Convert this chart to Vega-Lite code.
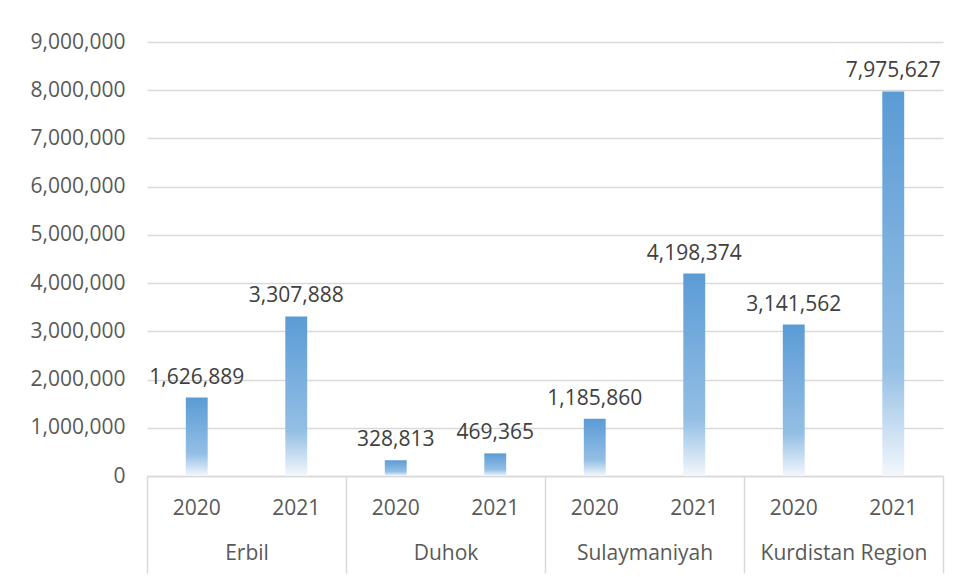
{
  "$schema": "https://vega.github.io/schema/vega-lite/v6.json",
  "width": 796,
  "height": 434,
  "autosize": "none",
  "padding": {"left": 147, "top": 42, "right": 13, "bottom": 101},
  "background": "white",
  "config": {
    "view": {"stroke": null},
    "font": "Open Sans",
    "axis": {"labelFont": "Open Sans", "labelFontSize": 21, "labelColor": "#595959"}
  },
  "data": {
    "values": [
      {"key": "Erbil|2020", "region": "Erbil", "year": "2020", "value": 1626889},
      {"key": "Erbil|2021", "region": "Erbil", "year": "2021", "value": 3307888},
      {"key": "Duhok|2020", "region": "Duhok", "year": "2020", "value": 328813},
      {"key": "Duhok|2021", "region": "Duhok", "year": "2021", "value": 469365},
      {"key": "Sulaymaniyah|2020", "region": "Sulaymaniyah", "year": "2020", "value": 1185860},
      {"key": "Sulaymaniyah|2021", "region": "Sulaymaniyah", "year": "2021", "value": 4198374},
      {"key": "Kurdistan Region|2020", "region": "Kurdistan Region", "year": "2020", "value": 3141562},
      {"key": "Kurdistan Region|2021", "region": "Kurdistan Region", "year": "2021", "value": 7975627}
    ]
  },
  "resolve": {"scale": {"x": "independent"}, "axis": {"x": "independent"}},
  "layer": [
    {
      "layer": [
        {
          "mark": {
            "type": "bar",
            "color": {
              "gradient": "linear",
              "x1": 0, "y1": 0, "x2": 0, "y2": 1,
              "stops": [
                {"offset": 0, "color": "#5b9bd5"},
                {"offset": 0.72, "color": "#94bfe5"},
                {"offset": 1, "color": "#f3f7fc"}
              ]
            }
          },
          "encoding": {
            "x": {
              "field": "key", "type": "nominal", "sort": null,
              "scale": {"paddingInner": 0.78, "paddingOuter": 0.39},
              "axis": {
                "title": null, "labelAngle": 0, "ticks": false,
                "domainColor": "#d9d9d9", "domainWidth": 1.5,
                "labelPadding": 21,
                "labelExpr": "split(datum.label, '|')[1]"
              }
            },
            "y": {
              "field": "value", "type": "quantitative",
              "scale": {"domain": [0, 9000000], "nice": false},
              "axis": {
                "title": null, "labelExpr": "format(datum.value, ',')", "values": [0,1000000,2000000,3000000,4000000,5000000,6000000,7000000,8000000,9000000],
                "domain": false, "ticks": false, "labelPadding": 22,
                "gridColor": "#d9d9d9", "gridWidth": 1.5
              }
            }
          }
        },
        {
          "mark": {"type": "text", "baseline": "alphabetic", "dy": -14, "fontSize": 21, "color": "#404040", "font": "Open Sans"},
          "encoding": {
            "x": {"field": "key", "type": "nominal", "sort": null},
            "y": {"field": "value", "type": "quantitative"},
            "text": {"field": "value", "type": "quantitative", "format": ","}
          }
        }
      ]
    },
    {
      "mark": {"type": "rule", "opacity": 0},
      "encoding": {
        "x": {
          "field": "region", "type": "nominal",
          "sort": ["Erbil", "Duhok", "Sulaymaniyah", "Kurdistan Region"],
          "scale": {"paddingInner": 0, "paddingOuter": 0},
          "axis": {
            "orient": "bottom",
            "title": null, "labelAngle": 0, "domain": false,
            "ticks": true, "tickBand": "extent", "tickSize": 97,
            "tickColor": "#d9d9d9", "tickWidth": 1.5,
            "labelPadding": -31
          }
        }
      }
    }
  ]
}
